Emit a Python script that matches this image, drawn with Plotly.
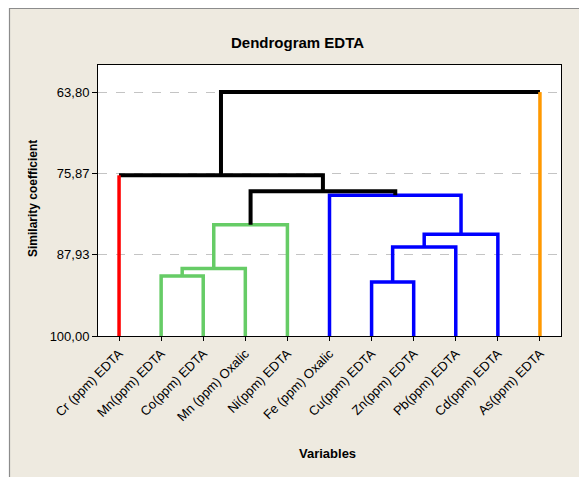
import plotly.graph_objects as go

# Leaf variables in dendrogram order
labels = [
    "Cr (ppm) EDTA", "Mn(ppm) EDTA", "Co(ppm) EDTA", "Mn (ppm) Oxalic",
    "Ni(ppm) EDTA", "Fe (ppm) Oxalic", "Cu(ppm) EDTA", "Zn(ppm) EDTA",
    "Pb(ppm) EDTA", "Cd(ppm) EDTA", "As(ppm) EDTA",
]
leaf_colors = [
    "#FF0000", "#66CC66", "#66CC66", "#66CC66", "#66CC66",
    "#0000FF", "#0000FF", "#0000FF", "#0000FF", "#0000FF", "#FF9900",
]

# Linkage steps: ids 0..10 are leaves, id 11+k is the cluster formed at step k
merge_left = [1, 6, 11, 12, 14, 13, 5, 16, 0, 19]
merge_right = [2, 7, 3, 8, 9, 4, 15, 17, 18, 10]
merge_similarity = [91.1, 92.0, 90.0, 86.8, 84.9, 83.5, 79.1, 78.5, 76.15, 63.80]
merge_colors = [
    "#66CC66", "#0000FF", "#66CC66", "#0000FF", "#0000FF",
    "#66CC66", "#0000FF", "#000000", "#000000", "#000000",
]

# Similarity axis ticks
y_ticks = [63.80, 75.87, 87.93, 100.00]
y_tick_text = ["63,80", "75,87", "87,93", "100,00"]
y_top = 59.78

# ---- build node coordinates -------------------------------------------
n = len(labels)
node_x = {i: i + 1 for i in range(n)}
node_h = {i: 100.0 for i in range(n)}
for k, (a, b, h) in enumerate(zip(merge_left, merge_right, merge_similarity)):
    node_x[n + k] = (node_x[a] + node_x[b]) / 2
    node_h[n + k] = h

# ---- collect polyline pieces grouped by colour --------------------------
pieces = []  # (colour, xs, ys)
for k, (a, b, h, col) in enumerate(zip(merge_left, merge_right,
                                       merge_similarity, merge_colors)):
    def leg_color(c):
        return leaf_colors[c] if c < n else col
    ca, cb = leg_color(a), leg_color(b)
    xs = [node_x[a], node_x[b]]
    ys = [h, h]
    if ca == col:
        xs = [node_x[a]] + xs
        ys = [node_h[a]] + ys
    else:
        pieces.append((ca, [node_x[a], node_x[a]], [node_h[a], h]))
    if cb == col:
        xs = xs + [node_x[b]]
        ys = ys + [node_h[b]]
    else:
        pieces.append((cb, [node_x[b], node_x[b]], [node_h[b], h]))
    pieces.append((col, xs, ys))

by_color = {}
for col, xs, ys in pieces:
    gx, gy = by_color.setdefault(col, ([], []))
    gx.extend(xs + [None])
    gy.extend(ys + [None])

fig = go.Figure()
for col, (gx, gy) in by_color.items():
    fig.add_trace(go.Scatter(
        x=gx, y=gy, mode="lines",
        line=dict(color=col, width=4 if col == "#000000" else 3.5),
        hoverinfo="skip", showlegend=False,
    ))

W, H = 579, 477
ML, MR, MT, MB = 98, 18, 65, 141
PW, PH = W - ML - MR, H - MT - MB


def px_x(p):
    return (p - ML) / PW


def px_y(p):
    return (H - MB - p) / PH


bg = "#EEEAE0"
frame = "#8C8C8C"
shapes = [
    # white margin strips around the framed panel
    dict(type="rect", xref="paper", yref="paper", x0=px_x(-5), x1=px_x(W + 5),
         y0=px_y(8), y1=px_y(-5), fillcolor="white", line_width=0, layer="above"),
    dict(type="rect", xref="paper", yref="paper", x0=px_x(-5), x1=px_x(9),
         y0=px_y(H + 5), y1=px_y(-5), fillcolor="white", line_width=0, layer="above"),
    # panel border
    dict(type="line", xref="paper", yref="paper", x0=px_x(9), x1=px_x(W + 5),
         y0=px_y(8.5), y1=px_y(8.5), line=dict(color=frame, width=1.2), layer="above"),
    dict(type="line", xref="paper", yref="paper", x0=px_x(9.5), x1=px_x(9.5),
         y0=px_y(8), y1=px_y(H + 5), line=dict(color=frame, width=1.2), layer="above"),
]

label_font = "Liberation Sans, Arial, sans-serif"

annotations = [
    dict(text="<b>Dendrogram EDTA</b>", xref="paper", yref="paper",
         x=px_x(297), y=px_y(42), showarrow=False, xanchor="center", yanchor="middle",
         font=dict(family=label_font, size=15, color="black")),
    dict(text="<b>Similarity coefficient</b>", xref="paper", yref="paper",
         x=px_x(33), y=px_y(199), showarrow=False, xanchor="center", yanchor="middle",
         textangle=-90, font=dict(family=label_font, size=12, color="black")),
    dict(text="<b>Variables</b>", xref="paper", yref="paper",
         x=px_x(327), y=px_y(454), showarrow=False, xanchor="center", yanchor="middle",
         font=dict(family=label_font, size=13, color="black")),
]

fig.update_layout(
    width=W, height=H,
    margin=dict(l=ML, r=MR, t=MT, b=MB, autoexpand=False),
    paper_bgcolor=bg, plot_bgcolor="white",
    shapes=shapes, annotations=annotations,
    showlegend=False,
    xaxis=dict(
        range=[0.5, n + 0.5], tickmode="array",
        tickvals=list(range(1, n + 1)), ticktext=labels, tickangle=-45,
        ticks="outside", ticklen=4, tickcolor="black",
        showgrid=False, zeroline=False,
        showline=True, linecolor="black", linewidth=1, mirror=True,
        tickfont=dict(family=label_font, size=13, color="black"),
    ),
    yaxis=dict(
        range=[100, y_top], tickmode="array",
        tickvals=y_ticks, ticktext=y_tick_text,
        ticks="outside", ticklen=5, tickcolor="black",
        showgrid=True, gridcolor="#C4C4C4", griddash="dash", gridwidth=1,
        zeroline=False,
        showline=True, linecolor="black", linewidth=1, mirror=True,
        tickfont=dict(family=label_font, size=13, color="black"),
    ),
)

fig.write_html("out.html")
